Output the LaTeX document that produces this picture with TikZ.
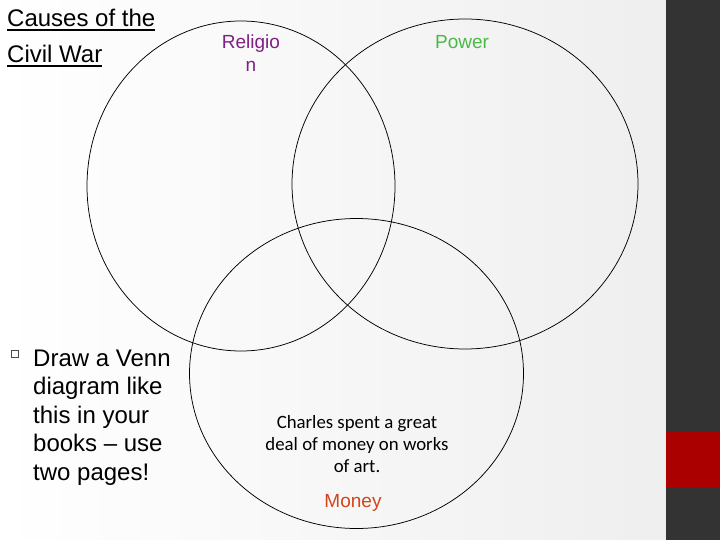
\documentclass[tikz,border=0pt]{standalone}
\usepackage{fontspec}
\setmainfont{Liberation Sans}
\newfontfamily\calfont{Carlito}
\usetikzlibrary{shapes.geometric}
\definecolor{relcol}{HTML}{7F1F86}
\definecolor{powcol}{HTML}{4CB847}
\definecolor{moncol}{HTML}{D2441C}
\definecolor{barcol}{HTML}{333333}
\definecolor{redcol}{HTML}{AA0000}
\newcommand{\undl}[1]{\setbox0\hbox{#1}\rlap{\rule[-4pt]{\wd0}{1.6pt}}\box0}

\begin{document}
\begin{tikzpicture}[x=1pt,y=-1pt,
  set/.style={draw=black,line width=0.75pt,ellipse,inner sep=0pt},
  head/.style={font=\fontsize{24}{36}\selectfont,anchor=base west,inner sep=0pt},
  body/.style={font=\fontsize{24}{28.5}\selectfont,align=left,anchor=base west,inner sep=0pt},
  lab/.style={font=\fontsize{19}{23}\selectfont,align=center,anchor=base,inner sep=0pt},
  note/.style={font=\calfont\fontsize{18.8}{22}\selectfont,align=center,anchor=base,inner sep=0pt}]
\useasboundingbox (0,0) rectangle (720,540);
\shade[left color=white,right color=gray!13] (0,0) rectangle (666,540);
\fill[barcol] (666,0) rectangle (720,540);
\fill[redcol] (666,432) rectangle (720,487);
% the three sets
\node[set,minimum width=308pt,minimum height=330pt] (rel) at (241,186) {};
\node[set,minimum width=346pt,minimum height=330pt] (pow) at (465,184) {};
\node[set,minimum width=334pt,minimum height=310pt] (mon) at (356.5,373.5) {};
% heading and task (multi-line nodes sit on their last baseline)
\node[head] (t1) at (7,27) {\undl{Causes of the}};
\node[head] (t2) at (7,63) {\undl{Civil War}};
\node[draw=gray!60!black,line width=0.8pt,minimum size=7pt,inner sep=0pt] (dot) at (15,354) {};
\node[body] (task) at (33,480) {Draw a Venn\\diagram like\\this in your\\books – use\\two pages!};
% labels
\node[lab,text=relcol] (rlab) at (251,72) {Religio\\n};
\node[lab,text=powcol] (plab) at (462,49) {Power};
\node[note] (fact) at (357,472) {Charles spent a great\\deal of money on works\\of art.};
\node[lab,text=moncol] (mlab) at (353,507) {Money};
\end{tikzpicture}
\end{document}
